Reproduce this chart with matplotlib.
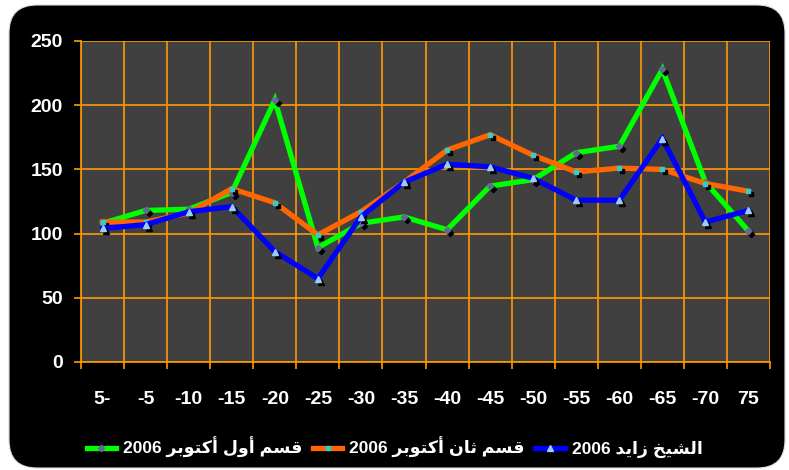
import matplotlib
matplotlib.use('Agg')
import matplotlib.pyplot as plt
from matplotlib.patches import FancyBboxPatch
from matplotlib.lines import Line2D
from matplotlib.transforms import offset_copy
from matplotlib.ticker import FixedLocator

# Data
categories = ['5-', '-5', '-10', '-15', '-20', '-25', '-30', '-35',
              '-40', '-45', '-50', '-55', '-60', '-65', '-70', '75']
qism_awal = [108, 118, 119, 132, 204, 89, 108, 113, 103, 137, 142, 163, 168, 228, 140, 102]
qism_thani = [109, 109, 116, 135, 124, 99, 117, 140, 165, 177, 161, 148, 151, 150, 139, 133]
sheikh_zayed = [104, 107, 117, 121, 86, 65, 113, 140, 154, 152, 143, 126, 126, 174, 109, 118]
series_names = ['قسم أول أكتوبر 2006', 'قسم ثان أكتوبر 2006', 'الشيخ زايد 2006']

# minimal arabic shaping (matplotlib does no bidi / joining)
FORMS = {
    '\u0627': ('\uFE8D', '\uFE8E', None, None),
    '\u0623': ('\uFE83', '\uFE84', None, None),
    '\u0628': ('\uFE8F', '\uFE90', '\uFE91', '\uFE92'),
    '\u062A': ('\uFE95', '\uFE96', '\uFE97', '\uFE98'),
    '\u062B': ('\uFE99', '\uFE9A', '\uFE9B', '\uFE9C'),
    '\u062E': ('\uFEA5', '\uFEA6', '\uFEA7', '\uFEA8'),
    '\u062F': ('\uFEA9', '\uFEAA', None, None),
    '\u0631': ('\uFEAD', '\uFEAE', None, None),
    '\u0632': ('\uFEAF', '\uFEB0', None, None),
    '\u0633': ('\uFEB1', '\uFEB2', '\uFEB3', '\uFEB4'),
    '\u0634': ('\uFEB5', '\uFEB6', '\uFEB7', '\uFEB8'),
    '\u0642': ('\uFED5', '\uFED6', '\uFED7', '\uFED8'),
    '\u0643': ('\uFED9', '\uFEDA', '\uFEDB', '\uFEDC'),
    '\u0644': ('\uFEDD', '\uFEDE', '\uFEDF', '\uFEE0'),
    '\u0645': ('\uFEE1', '\uFEE2', '\uFEE3', '\uFEE4'),
    '\u0646': ('\uFEE5', '\uFEE6', '\uFEE7', '\uFEE8'),
    '\u0648': ('\uFEED', '\uFEEE', None, None),
    '\u064A': ('\uFEF1', '\uFEF2', '\uFEF3', '\uFEF4'),
}


def shape_word(word):
    out = []
    for i, ch in enumerate(word):
        forms = FORMS.get(ch)
        if forms is None:
            out.append(ch)
            continue
        prev = FORMS.get(word[i - 1]) if i > 0 else None
        nxt = FORMS.get(word[i + 1]) if i < len(word) - 1 else None
        join_prev = prev is not None and prev[2] is not None
        join_next = nxt is not None and forms[2] is not None
        if join_prev and join_next:
            out.append(forms[3])
        elif join_prev:
            out.append(forms[1])
        elif join_next:
            out.append(forms[2])
        else:
            out.append(forms[0])
    return ''.join(reversed(out))


def visual(text):
    words = [w if w.isdigit() else shape_word(w) for w in text.split(' ')]
    return ' '.join(reversed(words))


grid_col = '#FF9900'
fonts = ['Liberation Sans', 'DejaVu Sans']

fig = plt.figure(figsize=(7.89, 4.70), dpi=100, facecolor='white')
bg = FancyBboxPatch((0.09, 0.02), 7.76, 4.63, boxstyle='round,pad=0,rounding_size=0.28',
                    transform=fig.dpi_scale_trans, facecolor='black', edgecolor='#dddddd',
                    lw=0.8, zorder=-10)
fig.patches.append(bg)

ax = fig.add_axes([0.1027, 0.2298, 0.8732, 0.683])
ax.set_facecolor('#404040')

x = list(range(len(categories)))
styles = [
    (qism_awal, '#00FF00', 'D', '#666699', 3.2),
    (qism_thani, '#FF6600', 's', '#33CCCC', 2.6),
    (sheikh_zayed, '#0000FF', '^', '#99CCFF', 4.0),
]
shadow = offset_copy(ax.transData, fig=fig, x=3, y=-3, units='dots')
handles = []
for k, (vals, col, mk, mcol, ms) in enumerate(styles):
    ax.plot(x, vals, color=col, lw=3.8, zorder=3 + k, solid_joinstyle='miter')
    ax.plot(x, vals, ls='none', marker=mk, ms=ms, color='black', transform=shadow, zorder=3 + k)
    ax.plot(x, vals, ls='none', marker=mk, ms=ms, color=mcol, mec=mcol, zorder=3 + k)
    handles.append(Line2D([], [], color=col, lw=3.8, marker=mk, ms=ms, mfc=mcol, mec=mcol))

ax.set_xlim(-0.5, len(categories) - 0.5)
ax.set_ylim(0, 250)
ax.set_yticks([0, 50, 100, 150, 200, 250])
ax.set_xticks(x)
ax.set_xticklabels(categories)
ax.xaxis.set_minor_locator(FixedLocator([i - 0.5 for i in range(len(categories) + 1)]))

ax.grid(axis='y', color=grid_col, lw=1.2, zorder=1)
ax.grid(axis='x', which='minor', color=grid_col, lw=1.2, zorder=1)
ax.set_axisbelow(True)
for side in ['top', 'right']:
    ax.spines[side].set_visible(False)
for side in ['left', 'bottom']:
    ax.spines[side].set_color(grid_col)
    ax.spines[side].set_linewidth(1.2)

ax.tick_params(axis='y', colors=grid_col, length=5, width=1.2, pad=8)
ax.tick_params(axis='x', which='major', length=0, pad=21)
ax.tick_params(axis='x', which='minor', colors=grid_col, length=5, width=1.2)
for lab in ax.get_xticklabels() + ax.get_yticklabels():
    lab.set_color('white')
    lab.set_fontweight('bold')
    lab.set_fontsize(14)
    lab.set_family(fonts)

leg = fig.legend(handles, [visual(s) for s in series_names], loc='center',
                 bbox_to_anchor=(0.5, 0.047), ncol=3, frameon=False, numpoints=1,
                 handlelength=1.7, handletextpad=0.4, columnspacing=0.6,
                 prop={'family': fonts, 'weight': 'bold', 'size': 12.5})
for t in leg.get_texts():
    t.set_color('white')

fig.savefig('out.png', dpi=100, facecolor='white')
